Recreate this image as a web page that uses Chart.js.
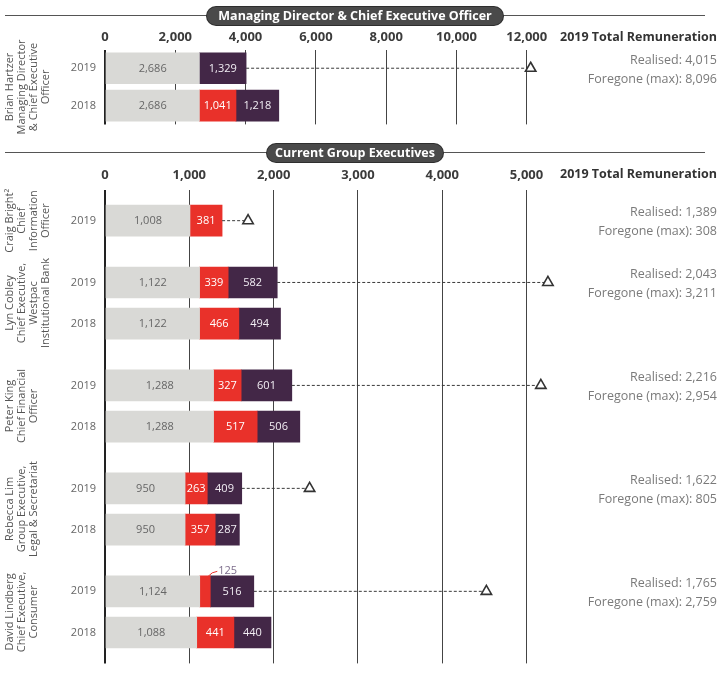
<!DOCTYPE html>
<html>
<head>
<meta charset="utf-8">
<script src="https://cdn.jsdelivr.net/npm/chart.js@4.4.1/dist/chart.umd.min.js"></script>
<style>
  body { margin: 0; background: #fff; width: 720px; height: 679px; position: relative; overflow: hidden; font-family: 'Open Sans', sans-serif; }
  canvas { position: absolute; left: 0; }
  .rule { position: absolute; left: 5px; width: 700px; height: 1px; background: #555; }
  .pill { position: absolute; height: 18px; line-height: 18px; border-radius: 9px; background: #4a4a4a; color: #fff; font-weight: 700; font-size: 12.5px; text-align: center; white-space: nowrap; box-shadow: 0 0 0 1px #2e2e2e; }
</style>
</head>
<body>
<canvas id="grafica1" width="720" height="140" style="top:0"></canvas>
<canvas id="grafica2" width="720" height="539" style="top:140px"></canvas>
<div class="rule" style="top:15px"></div>
<div class="pill" style="left:207px; top:7px; width:296px">Managing Director &amp; Chief Executive Officer</div>
<div class="rule" style="top:152px"></div>
<div class="pill" style="left:267px; top:144px; width:176px">Current Group Executives</div>
<script>
// Colors dels segments
const GRIS = '#d9d9d6';
const VERMELL = '#e9312a';
const LILA = '#432747';
const FONT = "'Open Sans', sans-serif";

// Managing Director & CEO
const ceoNames = [['Brian Hartzer', 'Managing Director', '& Chief Executive', 'Officer']];
const ceoRowPerson = [0, 0];
const ceoRowYear = ['2019', '2018'];
const ceoFixed = [2686, 2686];
const ceoShortTerm = [0, 1041];
const ceoLongTerm = [1329, 1218];
const ceoRealised = [4015];
const ceoForegone = [8096];
const ceoTicks = [0, 2000, 4000, 6000, 8000, 10000, 12000];

// Current Group Executives
const execNames = [
    ['Craig Bright²', 'Chief', 'Information', 'Officer'],
    ['Lyn Cobley', 'Chief Executive,', 'Westpac', 'Institutional Bank'],
    ['Peter King', 'Chief Financial', 'Officer'],
    ['Rebecca Lim', 'Group Executive,', 'Legal & Secretariat'],
    ['David Lindberg', 'Chief Executive,', 'Consumer']
];
const execRowPerson = [0, 1, 1, 2, 2, 3, 3, 4, 4];
const execRowYear = ['2019', '2019', '2018', '2019', '2018', '2019', '2018', '2019', '2018'];
const execFixed = [1008, 1122, 1122, 1288, 1288, 950, 950, 1124, 1088];
const execShortTerm = [381, 339, 466, 327, 517, 263, 357, 125, 441];
const execLongTerm = [0, 582, 494, 601, 506, 409, 287, 516, 440];
const execRealised = [1389, 2043, 2216, 1622, 1765];
const execForegone = [308, 3211, 2954, 805, 2759];
const execTicks = [0, 1000, 2000, 3000, 4000, 5000];

const fmt = v => v.toLocaleString('en-US');

// Funció per crear una gràfica de barres horitzontals
function crearGrafica(id, d, lay) {
    // files amb separadors entre anys i persones
    const slots = [null];
    d.rowPerson.forEach((p, r) => {
        if (r > 0) {
            if (p !== d.rowPerson[r - 1]) slots.push(null, null);
            else slots.push(null);
        }
        slots.push(r);
    });
    slots.push(null);

    const labels = slots.map((r, s) => 'slot' + s); // etiquetes úniques
    const barra = (color, txt, from, to) => ({
        data: slots.map(r => (r === null || to(r) === from(r)) ? null : [from(r), to(r)]),
        backgroundColor: color,
        labelColor: txt,
        barThickness: 31,
        grouped: false,
        borderWidth: 0
    });

    const datasets = [
        barra(GRIS, '#666', r => 0, r => d.fixed[r]),
        barra(VERMELL, '#fff', r => d.fixed[r], r => d.fixed[r] + d.short[r]),
        barra(LILA, '#f2eef4', r => d.fixed[r] + d.short[r], r => d.fixed[r] + d.short[r] + d.long[r])
    ];

    // línia discontínua fins al màxim renunciat
    const firstSlot = d.realised.map((_, p) => slots.indexOf(d.rowPerson.indexOf(p)));
    d.realised.forEach((re, p) => {
        datasets.push({
            type: 'line',
            indexAxis: 'y',
            data: [{ x: re, y: labels[firstSlot[p]] }, { x: re + d.foregone[p], y: labels[firstSlot[p]] }],
            borderColor: '#3a3a3a',
            borderWidth: 1,
            borderDash: [3, 2],
            pointRadius: [0, 6],
            pointStyle: 'triangle',
            pointBackgroundColor: '#fff',
            pointBorderColor: '#333',
            pointBorderWidth: 1.6,
            fill: false,
            clip: false,
            order: -1
        });
    });

    const etiquetes = {
        id: 'etiquetes',
        afterDraw(chart) {
            const ctx = chart.ctx;
            const y = chart.scales.y;
            ctx.save();
            // valors dins les barres
            ctx.font = '11px ' + FONT;
            ctx.textBaseline = 'middle';
            chart.data.datasets.forEach((ds, di) => {
                if (ds.type === 'line') return;
                chart.getDatasetMeta(di).data.forEach((el, i) => {
                    const v = ds.data[i];
                    if (!v) return;
                    const w = Math.abs(el.x - el.base);
                    const txt = fmt(v[1] - v[0]);
                    if (w < 18) {
                        ctx.strokeStyle = VERMELL;
                        ctx.lineWidth = 1;
                        ctx.beginPath();
                        ctx.moveTo((el.x + el.base) / 2 + 2, el.y - 14);
                        ctx.quadraticCurveTo(el.x + 2, el.y - 20, el.x + 7, el.y - 20);
                        ctx.stroke();
                        ctx.fillStyle = '#7d6d8c';
                        ctx.textAlign = 'left';
                        ctx.fillText(txt, el.x + 8, el.y - 20);
                    } else {
                        ctx.fillStyle = ds.labelColor;
                        ctx.textAlign = 'center';
                        ctx.fillText(txt, (el.x + el.base) / 2, el.y + 0.5);
                    }
                });
            });
            // noms en vertical
            ctx.fillStyle = '#555';
            ctx.font = '11px ' + FONT;
            ctx.textAlign = 'center';
            d.names.forEach((lines, p) => {
                const px = slots.map((r, s) => (r !== null && d.rowPerson[r] === p) ? y.getPixelForValue(s) : null).filter(v => v !== null);
                const yc = px.reduce((a, b) => a + b, 0) / px.length;
                lines.forEach((ln, k) => {
                    ctx.save();
                    ctx.translate(10 + 12 * k, yc);
                    ctx.rotate(-Math.PI / 2);
                    ctx.fillText(ln, 0, 0);
                    ctx.restore();
                });
            });
            // columna dreta
            ctx.textAlign = 'right';
            ctx.fillStyle = '#333';
            ctx.font = 'bold 12.5px ' + FONT;
            ctx.fillText('2019 Total Remuneration', 717, chart.chartArea.top - lay.tickPad - 8);
            ctx.fillStyle = '#7a7a7a';
            ctx.font = '12.5px ' + FONT;
            d.realised.forEach((re, p) => {
                const yy = y.getPixelForValue(firstSlot[p]);
                ctx.fillText('Realised: ' + fmt(re), 717, yy - 8);
                ctx.fillText('Foregone (max): ' + fmt(d.foregone[p]), 717, yy + 11);
            });
            ctx.restore();
        }
    };

    const canvas = document.getElementById(id);
    new Chart(canvas.getContext('2d'), {
        type: 'bar',
        data: { labels: labels, datasets: datasets },
        options: {
            indexAxis: 'y',
            responsive: false,
            animation: false,
            layout: { padding: { left: 0, top: 0, right: 720 - lay.right, bottom: canvas.height - lay.bottom } },
            plugins: { legend: { display: false }, tooltip: { enabled: false } },
            scales: {
                x: {
                    type: 'linear',
                    position: 'top',
                    min: 0,
                    max: lay.max,
                    border: { display: false },
                    grid: {
                        drawTicks: false,
                        color: c => (c.tick && c.tick.value === 0) ? '#222' : '#444',
                        lineWidth: c => (c.tick && c.tick.value === 0) ? 2 : 1
                    },
                    ticks: {
                        font: { family: FONT, size: 13, weight: 'bold' },
                        color: '#3b3b3b',
                        padding: lay.tickPad,
                        callback: v => fmt(v)
                    },
                    afterBuildTicks: s => { s.ticks = d.ticks.map(v => ({ value: v })); },
                    afterFit: s => { s.height = lay.top; }
                },
                y: {
                    type: 'category',
                    offset: lay.offset,
                    border: { display: false },
                    grid: { display: false, drawTicks: false },
                    ticks: {
                        autoSkip: false,
                        font: { family: FONT, size: 11 },
                        color: '#666',
                        padding: 9,
                        callback: (v, i) => slots[i] === null ? '' : d.rowYear[slots[i]]
                    },
                    afterFit: s => { s.width = 105; }
                }
            }
        },
        plugins: [etiquetes]
    });
}

crearGrafica('grafica1', {
    names: ceoNames, rowPerson: ceoRowPerson, rowYear: ceoRowYear,
    fixed: ceoFixed, short: ceoShortTerm, long: ceoLongTerm,
    realised: ceoRealised, foregone: ceoForegone, ticks: ceoTicks
}, { offset: false, top: 49.5, bottom: 133.5, right: 537.3, max: 12300, tickPad: 4 });

crearGrafica('grafica2', {
    names: execNames, rowPerson: execRowPerson, rowYear: execRowYear,
    fixed: execFixed, short: execShortTerm, long: execLongTerm,
    realised: execRealised, foregone: execForegone, ticks: execTicks
}, { offset: true, top: 49.8, bottom: 528.2, right: 551.8, max: 5300, tickPad: 7 });
</script>
</body>
</html>
